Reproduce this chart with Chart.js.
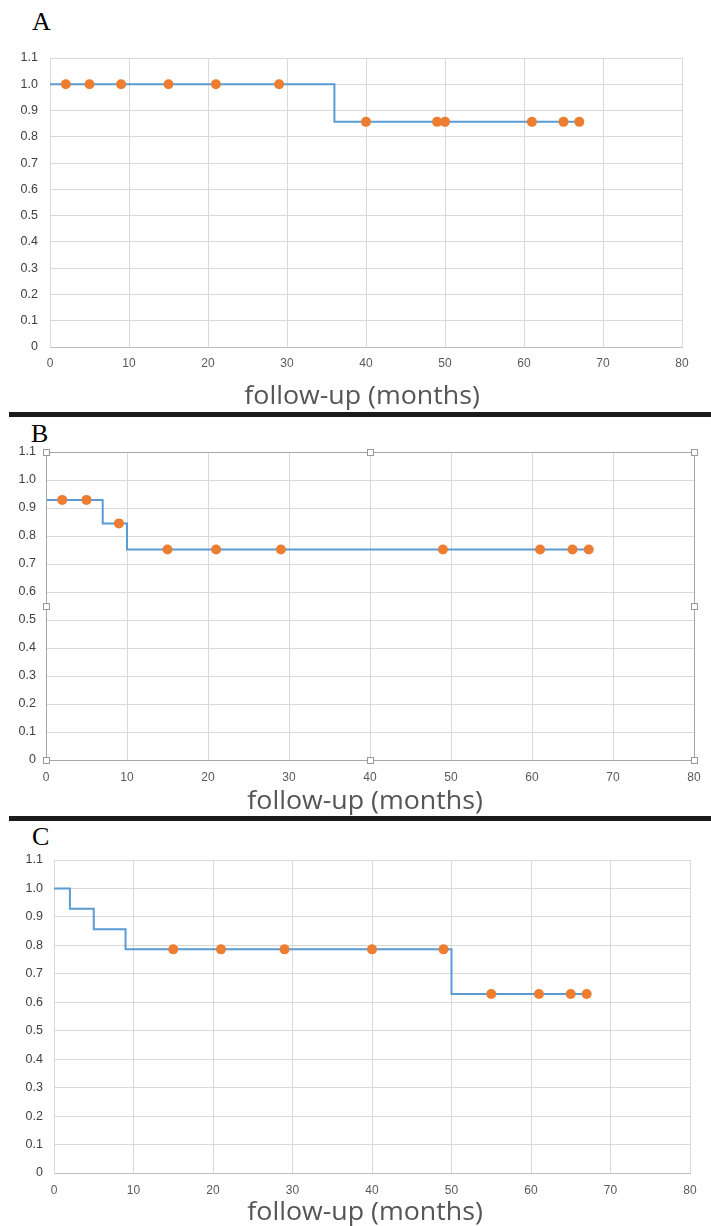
<!DOCTYPE html>
<html>
<head>
<meta charset="utf-8">
<script src="https://cdn.jsdelivr.net/npm/chart.js@4.4.1/dist/chart.umd.min.js"></script>
<style>
  body { margin: 0; background: #fff; width: 711px; height: 1226px; position: relative; overflow: hidden; }
  canvas { position: absolute; left: 0; }
  .panel { position: absolute; font-family: "Liberation Serif", serif; font-size: 26px; line-height: 26px; color: #000; }
  .xtitle { position: absolute; left: 0; width: 711px; text-align: center; font-family: "Open Sans", sans-serif;
            font-size: 25px; line-height: 25px; color: #555555; }
  .xtitle span { display: inline-block; transform: scaleX(1.07); }
  .sep { position: absolute; left: 9px; right: 0; background: #1b1b1b; }
</style>
</head>
<body>
<div class="panel" style="left:32px; top:9px;">A</div>
<canvas id="chartA" width="711" height="412" style="top:0px"></canvas>
<div class="xtitle" style="left:7px; top:382px;"><span>follow-up (months)</span></div>
<div class="sep" style="top:412px; height:5px;"></div>

<div class="panel" style="left:31px; top:421px;">B</div>
<canvas id="chartB" width="711" height="399" style="top:418px"></canvas>
<div class="xtitle" style="left:10px; top:787px;"><span>follow-up (months)</span></div>
<div class="sep" style="top:816px; height:5px;"></div>

<div class="panel" style="left:32px; top:824px;">C</div>
<canvas id="chartC" width="711" height="404" style="top:822px"></canvas>
<div class="xtitle" style="left:10px; top:1198px;"><span>follow-up (months)</span></div>

<script>
// Kaplan-Meier steps: time of event, survival after it
const aTimes = [0, 36, 67];
const aSurv = [1.0, 0.857, 0.857];
const aCensorTimes = [2, 5, 9, 15, 21, 29, 40, 49, 50, 61, 65, 67];
const aCensorSurv = [1.0, 1.0, 1.0, 1.0, 1.0, 1.0, 0.857, 0.857, 0.857, 0.857, 0.857, 0.857];

const bTimes = [0, 0, 7, 10, 67];
const bSurv = [1.0, 0.929, 0.845, 0.752, 0.752];
const bCensorTimes = [2, 5, 9, 15, 21, 29, 49, 61, 65, 67];
const bCensorSurv = [0.929, 0.929, 0.845, 0.752, 0.752, 0.752, 0.752, 0.752, 0.752, 0.752];

const cTimes = [0, 2, 5, 9, 50, 67];
const cSurv = [1.0, 0.929, 0.857, 0.786, 0.629, 0.629];
const cCensorTimes = [15, 21, 29, 40, 49, 55, 61, 65, 67];
const cCensorSurv = [0.786, 0.786, 0.786, 0.786, 0.786, 0.629, 0.629, 0.629, 0.629];

const xMin = 0, xMax = 80, xStep = 10;
const yMin = 0, yMax = 1.1, yStep = 0.1;

// frame with selection handles (panel B)
const frameHandles = {
    id: 'frameHandles',
    afterDraw(chart) {
        const a = chart.chartArea, c = chart.ctx;
        c.save();
        c.strokeStyle = '#a6a6a6';
        c.lineWidth = 1;
        c.strokeRect(Math.round(a.left) + 0.5, Math.round(a.top) + 0.5, Math.round(a.width), Math.round(a.height));
        const mx = Math.round((a.left + a.right) / 2), my = Math.round((a.top + a.bottom) / 2);
        const pts = [[a.left, a.top], [mx, a.top], [a.right, a.top], [a.left, my], [a.right, my],
                     [a.left, a.bottom], [mx, a.bottom], [a.right, a.bottom]];
        pts.forEach(([x, y]) => {
            x = Math.round(x); y = Math.round(y);
            c.fillStyle = '#fff';
            c.fillRect(x - 3, y - 3, 7, 7);
            c.strokeStyle = '#9a9a9a';
            c.strokeRect(x - 3 + 0.5, y - 3 + 0.5, 6, 6);
        });
        c.restore();
    }
};

function define(id, times, surv, cenT, cenS, box) {
    let ctx = document.getElementById(id);
    let line = times.map((t, i) => ({x: t, y: surv[i]}));
    let cens = cenT.map((t, i) => ({x: t, y: cenS[i]}));

    return new Chart(ctx, {
        type: 'scatter',
        data: {
            datasets: [{
                label: 'censored',
                data: cens,
                pointRadius: 5,
                pointHoverRadius: 5,
                backgroundColor: '#ed7d31',
                borderWidth: 0,
                showLine: false
            }, {
                label: 'survival',
                data: line,
                showLine: true,
                stepped: 'before',
                pointRadius: 0,
                borderColor: '#5b9bd5',
                borderWidth: 2,
                fill: false
            }]
        },
        options: {
            responsive: false,
            animation: false,
            layout: {
                padding: {top: box.top, right: box.right, bottom: 0, left: 0}
            },
            scales: {
                x: {
                    type: 'linear',
                    min: xMin,
                    max: xMax,
                    afterFit: (s) => { s.height = box.xh; },
                    ticks: {
                        stepSize: xStep,
                        padding: box.xpad,
                        color: '#595959',
                        font: {family: 'Liberation Sans', size: 12}
                    },
                    grid: {color: '#d9d9d9', drawTicks: false},
                    border: {color: '#bfbfbf'}
                },
                y: {
                    min: yMin,
                    max: yMax,
                    afterFit: (s) => { s.width = box.left; },
                    ticks: {
                        stepSize: yStep,
                        padding: box.ypad,
                        color: '#404040',
                        font: {family: 'Liberation Sans', size: 12.5},
                        callback: (v) => v === 0 ? '0' : v.toFixed(1)
                    },
                    grid: {color: '#d9d9d9', drawTicks: false},
                    border: {color: '#d9d9d9'}
                }
            },
            plugins: {
                legend: {display: false},
                tooltip: {enabled: false}
            }
        },
        plugins: box.handles ? [frameHandles] : []
    });
}

define('chartA', aTimes, aSurv, aCensorTimes, aCensorSurv,
    {top: 58, right: 29, left: 50, xh: 65, xpad: 9, ypad: 12});
define('chartB', bTimes, bSurv, bCensorTimes, bCensorSurv,
    {top: 34, right: 17, left: 46, xh: 57, xpad: 10, ypad: 10, handles: true});
define('chartC', cTimes, cSurv, cCensorTimes, cCensorSurv,
    {top: 38, right: 21, left: 54, xh: 53, xpad: 10, ypad: 11});
</script>
</body>
</html>
